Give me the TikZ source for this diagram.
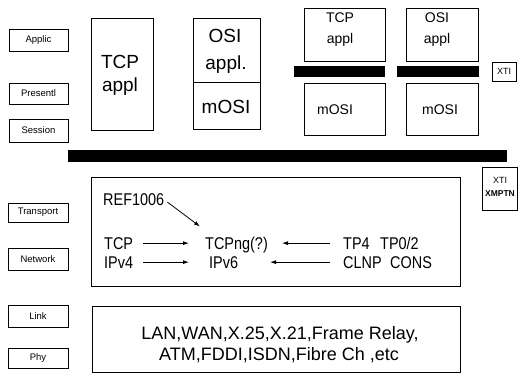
\documentclass[tikz,border=0pt]{standalone}
\usepackage{fontspec}
\setmainfont{Liberation Sans}
\newfontfamily\narrowsans{Liberation Sans}[FakeStretch=0.85]
\usetikzlibrary{arrows.meta}
\begin{document}
\begin{tikzpicture}[x=1pt,y=-1pt,
  box/.style={draw, line width=1pt, inner sep=0pt},
  barfill/.style={fill=black, inner sep=0pt},
  layer/.style={box, font=\fontsize{9.5}{11}\selectfont},
  txt/.style={inner sep=0pt, anchor=base},
  big/.style={txt, font=\fontsize{19}{23}\selectfont},
  med/.style={txt, font=\fontsize{14}{17}\selectfont},
  mid/.style={inner sep=0pt, anchor=base west, font=\narrowsans\fontsize{17}{20}\selectfont},
  low/.style={txt, font=\fontsize{18}{22}\selectfont},
  arr/.style={-{Latex[length=6pt,width=4pt]}, line width=0.8pt},
]
\useasboundingbox (0,0) rectangle (521,376);

% layer labels
\node[layer, minimum width=59pt, minimum height=22pt] (applic) at (38.5,40) {Applic};
\node[layer, minimum width=59pt, minimum height=21pt] (present) at (38.5,93.5) {Presentl};
\node[layer, minimum width=59pt, minimum height=23pt] (session) at (38.5,130.5) {Session};
\node[layer, minimum width=60pt, minimum height=19pt] (transport) at (38,212.5) {Transport};
\node[layer, minimum width=60pt, minimum height=22pt] (network) at (38,259) {Network};
\node[layer, minimum width=60pt, minimum height=22pt] (link) at (38,316) {Link};
\node[layer, minimum width=60pt, minimum height=20pt] (phy) at (38,358) {Phy};

% left application stacks
\node[box, minimum width=62pt, minimum height=112pt] (tcpL) at (122,74) {};
\node[big] (tcpLa) at (120,68) {TCP};
\node[big] (tcpLb) at (120,91) {appl};

\node[box, minimum width=67pt, minimum height=64pt] (osiTop) at (226.5,50) {};
\node[box, minimum width=67pt, minimum height=47pt] (osiBot) at (226.5,105.5) {};
\node[big] (osiTa) at (225,42) {OSI};
\node[big] (osiTb) at (226,69) {appl.};
\node[big] (osiBa) at (226,113) {mOSI};

% right application stacks
\node[box, minimum width=81pt, minimum height=53pt] (tcpR) at (344.5,34.5) {};
\node[med] (tcpRa) at (340,22) {TCP};
\node[med] (tcpRb) at (340,43) {appl};
\node[box, minimum width=72pt, minimum height=53pt] (osiR) at (442,34.5) {};
\node[med] (osiRa) at (437,22) {OSI};
\node[med] (osiRb) at (437,43) {appl};

\node[barfill, minimum width=91pt, minimum height=11pt] (barA) at (339.5,71.5) {};
\node[barfill, minimum width=82pt, minimum height=11pt] (barB) at (438,71.5) {};
\node[box, minimum width=24pt, minimum height=19pt, font=\fontsize{9}{10}\selectfont] (xtiA) at (504,71.5) {XTI};

\node[box, minimum width=81pt, minimum height=52pt] (mosiA) at (344.5,109) {};
\node[med] (mosiAt) at (335,114) {mOSI};
\node[box, minimum width=72pt, minimum height=52pt] (mosiB) at (442,109) {};
\node[med] (mosiBt) at (440,114) {mOSI};

% big bar
\node[barfill, minimum width=439pt, minimum height=12pt] (bigbar) at (287.5,156) {};

% XTI XMPTN
\node[box, minimum width=35pt, minimum height=43pt] (xtiB) at (499.5,188.5) {};
\node[txt, font=\fontsize{9}{10}\selectfont] (xtiBa) at (500,183) {XTI};
\node[txt, font=\fontsize{8.5}{10}\bfseries] (xtiBb) at (500,196) {XMPTN};

% middle box
\node[box, minimum width=369pt, minimum height=109pt] (midbox) at (275.5,231.5) {};
\node[mid] (ref) at (103,205) {REF1006};
\node[mid] (tcp) at (104,249) {TCP};
\node[mid] (ipv4) at (104,268) {IPv4};
\node[mid] (tcpng) at (205,249) {TCPng(?)};
\node[mid] (ipv6) at (209,268) {IPv6};
\node[mid] (tp4) at (343,249) {TP4};
\node[mid] (tp02) at (380,249) {TP0/2};
\node[mid] (clnp) at (343,268) {CLNP};
\node[mid] (cons) at (390,268) {CONS};

\draw[arr] ([shift={(3,3)}]ref.east) -- ([shift={(-5,-10)}]tcpng.north west);
\draw[arr] ([xshift=39pt]tcp.west) -- ([xshift=85pt]tcp.west);
\draw[arr] ([xshift=39pt]ipv4.west) -- ([xshift=85pt]ipv4.west);
\draw[arr] ([xshift=-13pt]tp4.west) -- ([xshift=-61pt]tp4.west);
\draw[arr] ([xshift=-13pt]clnp.west) -- ([xshift=-73pt]clnp.west);

% lower box
\node[box, minimum width=368pt, minimum height=66pt] (lowbox) at (276,339) {};
\node[low] (lowa) at (280,339) {LAN,WAN,X.25,X.21,Frame Relay,};
\node[low] (lowb) at (279,360) {ATM,FDDI,ISDN,Fibre Ch ,etc};
\end{tikzpicture}
\end{document}
